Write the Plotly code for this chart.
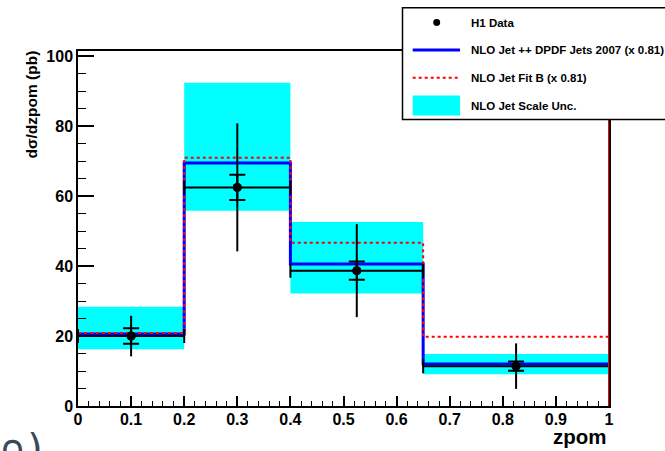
import plotly.graph_objects as go

# Binning in zpom and measured cross section
edges = [0.0, 0.2, 0.4, 0.65, 1.0]
data_x = [0.1, 0.3, 0.525, 0.825]
data_y = [20.0, 62.5, 38.7, 11.4]
stat_err = [2.2, 3.6, 2.6, 1.35]
total_err = [5.8, 18.3, 13.3, 6.5]

# Predictions per bin
nlo_dpdf = [20.6, 69.5, 40.6, 12.0]
nlo_fitb = [20.9, 71.0, 46.7, 19.8]
scale_lo = [16.2, 55.8, 32.2, 9.1]
scale_hi = [28.4, 92.4, 52.6, 14.9]

legend_labels = [
    "H1 Data",
    "NLO Jet ++ DPDF Jets 2007 (x 0.81)",
    "NLO Jet Fit B (x 0.81)",
    "NLO Jet Scale Unc.",
]

W, H = 665, 451
L, R, T, B = 78, 609, 50.5, 406
YMAX = 101.5
FONT = "Liberation Sans"


def px(x):
    return (x - L) / (R - L)


def py(y):
    return (B - y) / (B - T)


centers = [(a + b) / 2 for a, b in zip(edges[:-1], edges[1:])]
widths = [b - a for a, b in zip(edges[:-1], edges[1:])]
xerr_plus = [b - x for x, b in zip(data_x, edges[1:])]
xerr_minus = [x - a for x, a in zip(data_x, edges[:-1])]

fig = go.Figure()

# scale uncertainty band
fig.add_trace(go.Bar(
    x=centers, width=widths, base=scale_lo,
    y=[h - l for h, l in zip(scale_hi, scale_lo)],
    marker=dict(color="#00ffff", line=dict(width=0)),
    showlegend=False, hoverinfo="skip",
))

# NLO step histograms
fig.add_trace(go.Scatter(
    x=edges, y=nlo_dpdf + [nlo_dpdf[-1]], mode="lines", line_shape="hv",
    line=dict(color="#0000ff", width=3), showlegend=False,
))
fig.add_trace(go.Scatter(
    x=edges, y=nlo_fitb + [nlo_fitb[-1]], mode="lines", line_shape="hv",
    line=dict(color="#ff0000", width=2, dash="3px,3px"), showlegend=False,
))

# data: total errors with bin-width bars
fig.add_trace(go.Scatter(
    x=data_x, y=data_y, mode="markers",
    marker=dict(color="black", size=9),
    error_y=dict(type="data", array=total_err, width=0, thickness=2, color="black"),
    error_x=dict(type="data", array=xerr_plus, arrayminus=xerr_minus,
                 width=7, thickness=2, color="black"),
    showlegend=False,
))
# data: statistical errors (tick marks)
fig.add_trace(go.Scatter(
    x=data_x, y=data_y, mode="markers",
    marker=dict(color="black", size=9),
    error_y=dict(type="data", array=stat_err, width=8, thickness=2, color="black"),
    showlegend=False,
))

shapes = [
    # edge of the Fit B histogram at the upper end of the range
    dict(type="line", xref="x", yref="paper", x0=edges[-1], x1=edges[-1],
         y0=0, y1=1, line=dict(color="#ff0000", width=2), layer="above"),
    # legend box
    dict(type="rect", xref="paper", yref="paper",
         x0=px(402.5), x1=px(672), y0=py(7.3), y1=py(119),
         fillcolor="white", line=dict(color="black", width=1.5), layer="above"),
    dict(type="circle", xref="paper", yref="paper",
         x0=px(436.7 - 3.5), x1=px(436.7 + 3.5), y0=py(22 + 3.5), y1=py(22 - 3.5),
         fillcolor="black", line=dict(color="black", width=0), layer="above"),
    dict(type="line", xref="paper", yref="paper",
         x0=px(412.7), x1=px(460), y0=py(49.5), y1=py(49.5),
         line=dict(color="#0000ff", width=3), layer="above"),
    dict(type="line", xref="paper", yref="paper",
         x0=px(412.7), x1=px(460), y0=py(77.3), y1=py(77.3),
         line=dict(color="#ff0000", width=2, dash="3px,3px"), layer="above"),
    dict(type="rect", xref="paper", yref="paper",
         x0=px(412.7), x1=px(460), y0=py(95), y1=py(115),
         fillcolor="#00ffff", line=dict(width=0), layer="above"),
]

annotations = []
for label, yc in zip(legend_labels, [22.5, 49.5, 77.3, 105.5]):
    annotations.append(dict(
        text=label, xref="paper", yref="paper", x=px(469), y=py(yc),
        xanchor="left", yanchor="middle", showarrow=False,
        font=dict(family=FONT, size=11.5, color="black", weight="bold"),
    ))

# axis titles
annotations.append(dict(
    text="zpom", xref="paper", yref="paper", x=1.0, y=py(450),
    xanchor="right", yanchor="bottom", showarrow=False,
    font=dict(family=FONT, size=20.5, color="black", weight="bold"),
))
annotations.append(dict(
    text="dσ/dzpom (pb)", xref="paper", yref="paper", x=px(32), y=py(48),
    xanchor="center", yanchor="top", textangle=-90, showarrow=False,
    font=dict(family=FONT, size=15.5, color="black", weight="bold"),
))
# partial glyphs at the lower-left page edge
annotations.append(dict(
    text="∩)", xref="paper", yref="paper", x=px(-4), y=py(424),
    xanchor="left", yanchor="top", showarrow=False,
    font=dict(family="DejaVu Sans", size=40, color="#3b4a5b"),
))

fig.update_layout(
    width=W, height=H,
    margin=dict(l=L, r=W - R, t=T, b=H - B, pad=0),
    paper_bgcolor="white", plot_bgcolor="white",
    showlegend=False, barmode="overlay",
    shapes=shapes, annotations=annotations,
    xaxis=dict(
        range=[edges[0], edges[-1]], showgrid=False, zeroline=False,
        showline=True, linecolor="black", linewidth=1.5, mirror=True,
        ticks="inside", ticklen=10, tickwidth=1.5, tickcolor="black",
        dtick=0.1, tick0=0, ticklabelstandoff=-2,
        minor=dict(ticks="inside", ticklen=5, tickwidth=1.2, dtick=0.02,
                   tickcolor="black", showgrid=False),
        tickfont=dict(family=FONT, size=16, color="black", weight="bold"),
    ),
    yaxis=dict(
        range=[0, YMAX], showgrid=False, zeroline=False,
        showline=True, linecolor="black", linewidth=1.5, mirror=True,
        ticks="inside", ticklen=16, tickwidth=1.5, tickcolor="black",
        dtick=20, tick0=0,
        minor=dict(ticks="inside", ticklen=8, tickwidth=1.2, dtick=5,
                   tickcolor="black", showgrid=False),
        tickfont=dict(family=FONT, size=16, color="black", weight="bold"),
    ),
)

fig.write_html("out.html")
